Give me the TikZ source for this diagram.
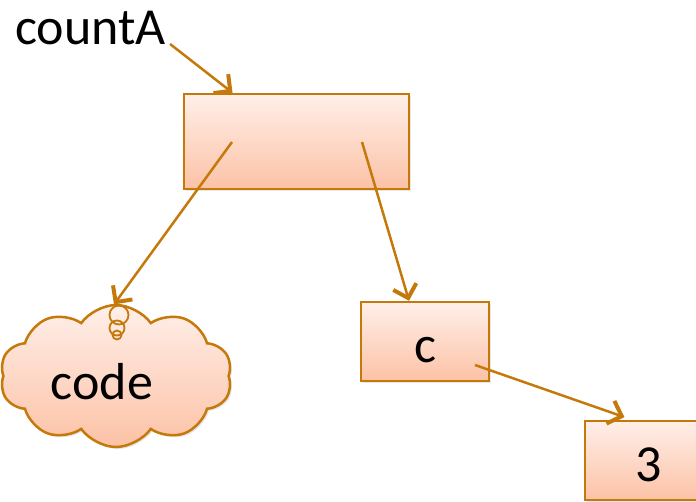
\documentclass[tikz,border=0pt]{standalone}
\usepackage{fontspec}
\setmainfont{Carlito}
\usetikzlibrary{arrows.meta,shapes.symbols,shadows,positioning}
\definecolor{linebrown}{RGB}{196,121,10}
\definecolor{filltop}{RGB}{255,239,233}
\definecolor{fillbot}{RGB}{252,194,166}
\begin{document}
\begin{tikzpicture}[x=1pt,y=-1pt,
	big/.style={font=\fontsize{52}{60}\selectfont},
	cell/.style={big,draw=linebrown,line width=2.5pt,top color=filltop,bottom color=fillbot,text height=52pt,text depth=10pt,
		drop shadow={opacity=0.2,shadow xshift=2pt,shadow yshift=-2pt}},
	bubble/.style={circle,draw=linebrown,line width=1.8pt,inner sep=0pt},
	ptr/.style={draw=linebrown,line width=2.5pt,-{Straight Barb[length=12pt,width=24pt,line width=4pt]}}]
	\clip (0,0) rectangle (696,501);
	\node[big,anchor=base west,inner sep=0pt] (name) at (15,44) {countA};
	\node[cell,minimum width=225pt,minimum height=95pt] (obj) at (296.5,141.5) {};
	\node[cell,cloud,cloud puffs=10,cloud puff arc=110,cloud ignores aspect,minimum width=232pt,minimum height=142pt] (code) at (116,376) {};
	\node[big] at ([xshift=-14pt,yshift=-6pt]code.center) {code};
	\node[cell,minimum width=128pt,minimum height=79pt] (cbox) at (425,341.5) {c};
	\node[cell,minimum width=128pt,minimum height=79pt] (val) at (649,460.5) {3};
	% thought bubbles on top of the cloud
	\node[bubble,minimum size=19pt] (bub) at (119,315) {};
	\node[bubble,minimum size=15pt] at (117,328) {};
	\node[bubble,minimum size=9pt] at (117,335) {};
	% pointers
	\coordinate (objL) at (232,142);
	\coordinate (objR) at (362,142);
	\coordinate (cIn) at (475,365);
	\draw[ptr] ([xshift=4pt]name.base east) -- ([xshift=-64pt]obj.north);
	\draw[ptr,shorten >=4pt] (objL) -- (bub.north west);
	\draw[ptr] (objR) -- ([xshift=-16pt]cbox.north);
	\draw[ptr,shorten >=8pt] (cIn) -- ([xshift=-17pt]val.north);
\end{tikzpicture}
\end{document}
